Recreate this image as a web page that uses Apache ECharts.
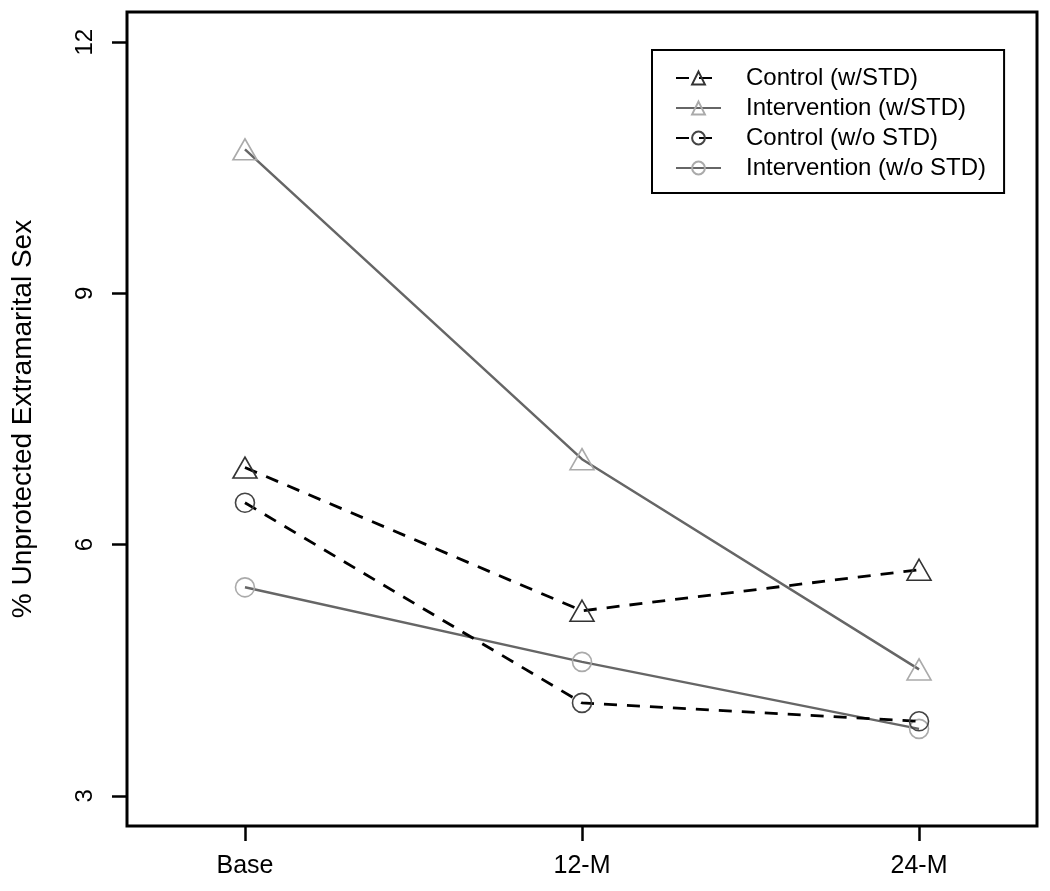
<!DOCTYPE html>
<html>
<head>
<meta charset="utf-8">
<script src="https://cdn.jsdelivr.net/npm/echarts@6/dist/echarts.min.js"></script>
<style>
html,body{margin:0;padding:0;background:#fff;}
#chart{width:1050px;height:891px;}
</style>
</head>
<body>
<div id="chart"></div>
<script>
const categories = ['Base', '12-M', '24-M'];
const xPositions = [1, 2, 3];
const yTicks = [3, 6, 9, 12];
const seriesNames = ['Control (w/STD)', 'Intervention (w/STD)', 'Control (w/o STD)', 'Intervention (w/o STD)'];
const controlWithSTD = [6.92, 5.21, 5.70];
const interventionWithSTD = [10.72, 7.02, 4.51];
const controlWithoutSTD = [6.50, 4.11, 3.89];
const interventionWithoutSTD = [5.49, 4.60, 3.80];

const FONT = 'Liberation Sans, Arial, sans-serif';

function pairs(vals) { return vals.map((v, i) => [xPositions[i], v]); }

function mkSeries(name, vals, dashed, symbol, symbolSize, lineColor, markerColor) {
  return {
    name: name,
    type: 'line',
    data: pairs(vals),
    symbol: symbol,
    symbolSize: symbolSize,
    showAllSymbol: true,
    lineStyle: { color: lineColor, width: dashed ? 2.8 : 2.5, type: dashed ? [13, 10] : 'solid' },
    itemStyle: { color: 'rgba(255,255,255,0)', borderColor: markerColor, borderWidth: 1.6 },
    emphasis: { disabled: true },
    z: dashed ? 3 : 2
  };
}

const chart = echarts.init(document.getElementById('chart'), null, { renderer: 'canvas' });
chart.setOption({
  animation: false,
  backgroundColor: '#fff',
  grid: {
    left: 127, right: 13, top: 12, bottom: 65,
    show: true, borderColor: '#000', borderWidth: 3, backgroundColor: 'transparent'
  },
  legend: {
    orient: 'vertical',
    left: 652, top: 50,
    padding: [16, 18, 13, 23],
    borderColor: '#000', borderWidth: 2,
    itemWidth: 45, itemHeight: 16,
    itemGap: 6,
    textStyle: { fontFamily: FONT, fontSize: 24, color: '#000', lineHeight: 24, padding: [0, 0, 0, 20] },
    data: seriesNames
  },
  xAxis: {
    type: 'value',
    min: 0.65, max: 3.35,
    splitLine: { show: false },
    axisLine: { show: false },
    axisTick: { show: true, inside: false, length: 15, lineStyle: { color: '#000', width: 2.5 }, customValues: xPositions },
    axisLabel: {
      customValues: xPositions,
      margin: 28,
      fontFamily: FONT, fontSize: 25, color: '#000',
      formatter: function (v) { const i = xPositions.indexOf(v); return i >= 0 ? categories[i] : ''; }
    }
  },
  yAxis: {
    type: 'value',
    min: 2.64, max: 12.36,
    name: '% Unprotected Extramarital Sex',
    nameLocation: 'middle',
    nameGap: 90,
    nameRotate: 90,
    nameTextStyle: { fontFamily: FONT, fontSize: 28, color: '#000' },
    splitLine: { show: false },
    axisLine: { show: false },
    axisTick: { show: true, inside: false, length: 15, lineStyle: { color: '#000', width: 2.5 }, customValues: yTicks },
    axisLabel: {
      customValues: yTicks,
      rotate: 90,
      margin: 30,
      fontFamily: FONT, fontSize: 24, color: '#000'
    }
  },
  series: [
    mkSeries(seriesNames[0], controlWithSTD, true, 'triangle', [24, 21], '#000', '#333'),
    mkSeries(seriesNames[1], interventionWithSTD, false, 'triangle', [24, 21], '#666', '#aaa'),
    mkSeries(seriesNames[2], controlWithoutSTD, true, 'circle', 19, '#000', '#444'),
    mkSeries(seriesNames[3], interventionWithoutSTD, false, 'circle', 19, '#666', '#aaa')
  ]
});
</script>
</body>
</html>
